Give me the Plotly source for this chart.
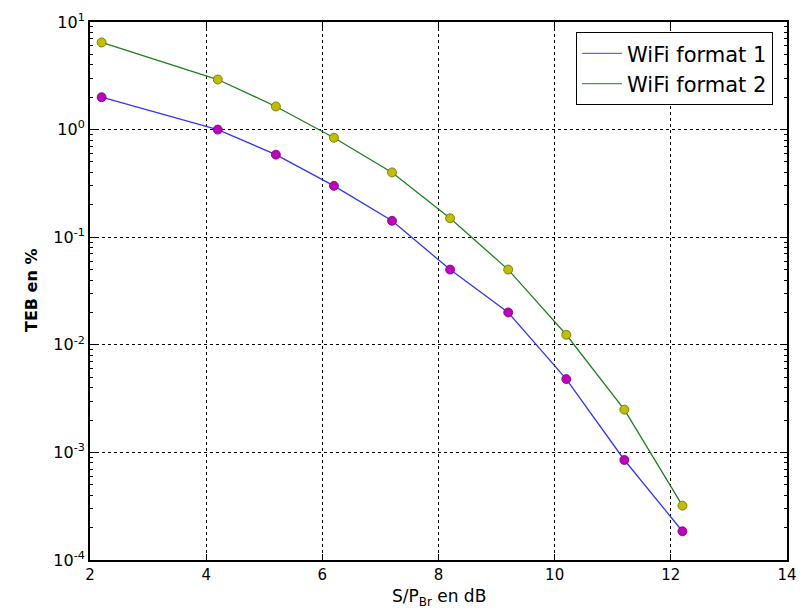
import plotly.graph_objects as go

snr_db = [2.2, 4.2, 5.2, 6.2, 7.2, 8.2, 9.2, 10.2, 11.2, 12.2]
teb_format1 = [2.0, 1.0, 0.585, 0.30, 0.142, 0.050, 0.020, 0.0048, 0.00085, 0.000185]
teb_format2 = [6.45, 2.92, 1.64, 0.84, 0.40, 0.15, 0.050, 0.0124, 0.0025, 0.00032]
series_names = ["WiFi format 1", "WiFi format 2"]
x_ticks = [2, 4, 6, 8, 10, 12, 14]
y_exponents = [-4, -3, -2, -1, 0, 1]
x_title = "S/P<sub>Br</sub> en dB"
y_title = "<b>TEB en %</b>"

font = "DejaVu Sans, Verdana, sans-serif"
fig = go.Figure()

fig.add_trace(go.Scatter(x=snr_db, y=teb_format1, mode="lines+markers", name=series_names[0],
                         line=dict(color="#3333ff", width=1.3),
                         marker=dict(color="#bf00bf", size=9, line=dict(color="#7a007a", width=0.8)),
                         showlegend=False))
fig.add_trace(go.Scatter(x=snr_db, y=teb_format2, mode="lines+markers", name=series_names[1],
                         line=dict(color="#1e7f1e", width=1.3),
                         marker=dict(color="#bfbf00", size=9, line=dict(color="#6b6b00", width=0.8)),
                         showlegend=False))
fig.add_trace(go.Scatter(x=[None], y=[None], mode="lines", name=series_names[0],
                         line=dict(color="#6666ff", width=1.3)))
fig.add_trace(go.Scatter(x=[None], y=[None], mode="lines", name=series_names[1],
                         line=dict(color="#4c994c", width=1.3)))

y_vals = [10.0 ** e for e in y_exponents]
y_text = ["10<sup>%d</sup>" % e for e in y_exponents]
minor_vals = [k * 10.0 ** e for e in y_exponents[:-1] for k in range(2, 10)]

fig.update_layout(
    width=803, height=600,
    paper_bgcolor="white", plot_bgcolor="white",
    margin=dict(l=82, r=24, t=14, b=48, autoexpand=False),
    font=dict(family=font, size=14, color="black"),
    showlegend=True,
    legend=dict(x=0.98, y=0.981, xanchor="right", yanchor="top",
                bordercolor="black", borderwidth=1, bgcolor="white",
                font=dict(size=21, family=font), tracegroupgap=0, itemwidth=40),
    xaxis=dict(range=[2, 14], tickvals=x_ticks, ticktext=[str(v) for v in x_ticks],
               showline=True, linecolor="black", linewidth=2, mirror="ticks",
               ticks="inside", ticklen=6, tickcolor="black",
               showgrid=True, gridcolor="black", griddash="dot", gridwidth=1,
               zeroline=False, tickfont=dict(size=15), automargin=False),
    yaxis=dict(type="log", range=[-4, 1], tickvals=y_vals, ticktext=y_text,
               showline=True, linecolor="black", linewidth=2, mirror="ticks",
               ticks="inside", ticklen=6, tickcolor="black",
               showgrid=True, gridcolor="black", griddash="dot", gridwidth=1,
               zeroline=False, tickfont=dict(size=16), automargin=False,
               minor=dict(tickmode="array", tickvals=minor_vals, ticks="inside",
                          ticklen=3, tickcolor="black", showgrid=False)),
    annotations=[
        dict(text=x_title, xref="paper", yref="paper", x=0.5, y=0, yshift=-24,
             xanchor="center", yanchor="top", showarrow=False, font=dict(size=17)),
        dict(text=y_title, xref="paper", yref="paper", x=0, y=0.5, xshift=-59,
             xanchor="center", yanchor="middle", textangle=-90, showarrow=False,
             font=dict(size=16)),
    ],
)

fig.write_html("out.html")
